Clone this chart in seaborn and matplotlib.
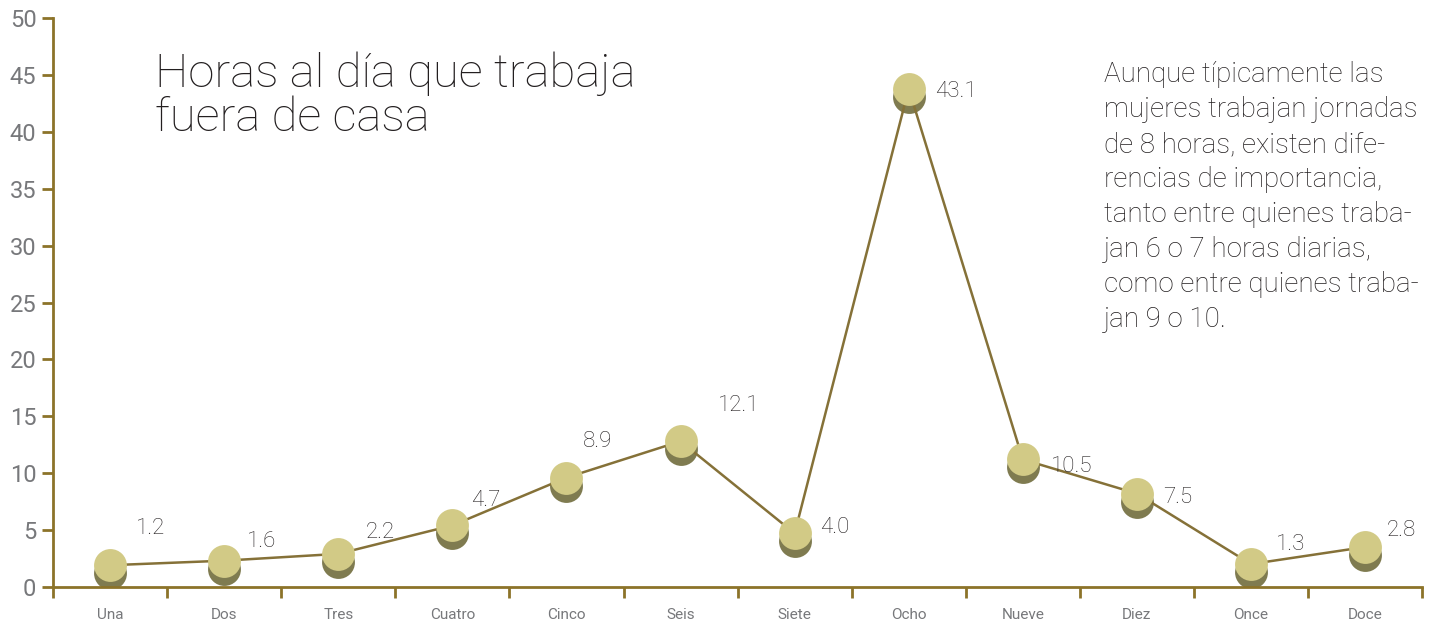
import pandas as pd
import seaborn as sns
import matplotlib.pyplot as plt
from matplotlib.transforms import ScaledTranslation

# data
horas = ['Una', 'Dos', 'Tres', 'Cuatro', 'Cinco', 'Seis', 'Siete', 'Ocho',
         'Nueve', 'Diez', 'Once', 'Doce']
porcentaje = [1.2, 1.6, 2.2, 4.7, 8.9, 12.1, 4.0, 43.1, 10.5, 7.5, 1.3, 2.8]
y_ticks = list(range(0, 51, 5))

# label offsets (pixels) from each marker
label_dx = [40, 37, 42, 33, 31, 58, 40, 47, 49, 41, 40, 36]
label_dy = [37, 19, 21, 25, 36, 36, 6, -3, -7, -4, 20, 17]

df = pd.DataFrame({'pos': range(len(horas)), 'hora': horas, 'valor': porcentaje})

sns.set_style('white')
plt.rcParams['font.family'] = ['Roboto', 'DejaVu Sans']

axis_col = '#8c7329'
line_col = '#857138'
top_col = '#d2ca86'
shadow_col = '#7f7b50'
text_col = '#231f20'
tick_col = '#77787b'

fig = plt.figure(figsize=(14.35, 6.27), dpi=100)
ax = fig.add_axes([0.037, 0.064, 0.954, 0.907])

up = ScaledTranslation(0, 8 / 100, fig.dpi_scale_trans)

# shadow disc, line and top disc give the "coin" markers
sns.scatterplot(data=df, x='pos', y='valor', s=560, color=shadow_col,
                linewidth=0, zorder=2, ax=ax)
sns.lineplot(data=df, x='pos', y='valor', color=line_col, linewidth=1.8,
             transform=ax.transData + up, zorder=3, ax=ax)
sns.scatterplot(data=df, x='pos', y='valor', s=560, color=top_col,
                linewidth=0, transform=ax.transData + up, zorder=4, ax=ax)

for i, v in enumerate(porcentaje):
    ax.annotate(f'{v:.1f}', (i, v), xytext=(label_dx[i], label_dy[i] + 8),
                textcoords='offset pixels', ha='center', va='center',
                fontsize=16, color=text_col, fontweight='light')

ax.set_xlim(-0.5, len(horas) - 0.5)
ax.set_ylim(0, 50)
ax.set_yticks(y_ticks)
ax.set_yticklabels([str(t) for t in y_ticks], fontsize=17, color=tick_col)
ax.set_xticks([i - 0.5 for i in range(len(horas) + 1)])
ax.set_xticklabels([])
ax.set_xticks(range(len(horas)), minor=True)
ax.set_xticklabels(horas, minor=True, fontsize=11, color=tick_col)
ax.tick_params(axis='x', which='major', direction='out', length=8, width=2,
               color=axis_col, bottom=True)
ax.tick_params(axis='x', which='minor', length=0, pad=15)
ax.tick_params(axis='y', direction='out', length=8, width=2, color=axis_col,
               left=True, pad=4)
ax.set_xlabel('')
ax.set_ylabel('')

for side in ['top', 'right']:
    ax.spines[side].set_visible(False)
for side in ['left', 'bottom']:
    ax.spines[side].set_color(axis_col)
    ax.spines[side].set_linewidth(2)

fig.text(155 / 1435, 1 - 51 / 627, 'Horas al día que trabaja\nfuera de casa',
         fontsize=34, color=text_col, ha='left', va='top', linespacing=1.02,
         fontweight='light')

nota = ('Aunque típicamente las\nmujeres trabajan jornadas\n'
        'de 8 horas, existen dife-\nrencias de importancia,\n'
        'tanto entre quienes traba-\njan 6 o 7 horas diarias,\n'
        'como entre quienes traba-\njan 9 o 10.')
fig.text(1104 / 1435, 1 - 61 / 627, nota, fontsize=20, color=text_col,
         ha='left', va='top', linespacing=1.38, fontweight='light')

plt.savefig('out.png', dpi=100)
